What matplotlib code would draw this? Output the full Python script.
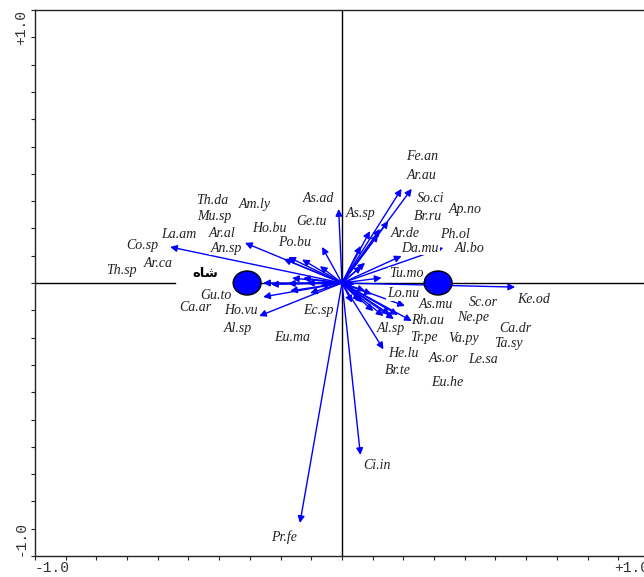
import matplotlib
matplotlib.use("Agg")
import matplotlib.pyplot as plt
from matplotlib.patches import Ellipse
import numpy as np

# species scores (arrow tips) on axes 1 and 2
species = ["Co.sp", "An.sp", "Ar.al", "Ho.bu", "Mu.sp", "Po.bu", "Ge.tu", "As.ad",
           "Th.sp", "Ar.ca", "Am.ly", "Th.da", "La.am", "Ec.sp", "Gu.to", "Ca.ar",
           "Ho.vu", "Al.sp", "Eu.ma", "Pr.fe",
           "Fe.an", "Ar.au", "So.ci", "Br.ru", "Ap.no", "As.sp", "Ar.de", "Ph.ol",
           "Al.bo", "Da.mu", "Tu.mo", "Ke.od", "Lo.nu", "As.mu", "Sc.or", "Rh.au",
           "Ne.pe", "Al.sp", "Tr.pe", "Va.py", "Ca.dr", "Ta.sy", "He.lu", "As.or",
           "Le.sa", "Br.te", "Eu.he", "Ci.in"]
tip_x = [-0.560, -0.316, -0.190, -0.175, -0.130, -0.065, -0.072, -0.011,
         -0.257, -0.231, -0.176, -0.163, -0.127, -0.114, -0.257, -0.169,
         -0.104, -0.270, -0.072, -0.137,
         0.227, 0.194, 0.151, 0.124, 0.118, 0.091, 0.061, 0.075,
         0.330, 0.194, 0.129, 0.564, 0.075, 0.205, 0.097, 0.227,
         0.182, 0.135, 0.156, 0.169, 0.059, 0.042, 0.135, 0.102,
         0.068, 0.033, 0.064, 0.060]
tip_y = [0.132, 0.147, 0.088, 0.095, 0.086, 0.132, 0.062, 0.271,
         0.000, -0.005, -0.002, 0.018, 0.018, 0.000, -0.051, -0.029,
         -0.037, -0.121, -0.011, -0.879,
         0.345, 0.345, 0.227, 0.198, 0.178, 0.190, 0.136, 0.074,
         0.129, 0.099, 0.019, -0.015, -0.029, -0.084, -0.041, -0.139,
         -0.117, -0.121, -0.115, -0.132, -0.066, -0.004, -0.243, -0.103,
         -0.072, -0.072, 0.062, -0.630]

# label positions for each species
lab_x = [-0.651, -0.378, -0.391, -0.238, -0.417, -0.156, -0.101, -0.078,
         -0.717, -0.599, -0.283, -0.423, -0.531, -0.078, -0.410, -0.479,
         -0.329, -0.339, -0.163, -0.189,
         0.261, 0.261, 0.287, 0.280, 0.401, 0.062, 0.205, 0.368,
         0.417, 0.254, 0.208, 0.625, 0.199, 0.306, 0.459, 0.280,
         0.427, 0.160, 0.267, 0.397, 0.564, 0.541, 0.199, 0.332,
         0.459, 0.182, 0.342, 0.114]
lab_y = [0.139, 0.128, 0.183, 0.198, 0.245, 0.147, 0.227, 0.308,
         0.044, 0.070, 0.289, 0.304, 0.179, -0.099, -0.044, -0.088,
         -0.099, -0.168, -0.201, -0.930,
         0.465, 0.392, 0.311, 0.242, 0.271, 0.253, 0.183, 0.179,
         0.128, 0.128, 0.033, -0.059, -0.040, -0.077, -0.070, -0.136,
         -0.125, -0.168, -0.198, -0.205, -0.165, -0.220, -0.260, -0.278,
         -0.282, -0.322, -0.366, -0.667]

# group centroids (nominal variables)
cent_x = [-0.309, 0.313]
cent_y = [0.0, 0.0]
group_name = "\uFEE9\uFE8E\uFEB7"   # شاه, glyphs in display order
group_pos = (-0.446, 0.033)

fig = plt.figure(figsize=(6.44, 5.77), dpi=100)
ax = fig.add_axes([35 / 644, 21 / 577, 614 / 644, 546 / 577])
ax.set_xlim(-1, 1)
ax.set_ylim(-1, 1)

for s in ["left", "bottom", "top", "right"]:
    ax.spines[s].set_linewidth(1.0)
    ax.spines[s].set_color("#222222")

ax.set_xticks(np.arange(-1, 1.01, 0.1))
ax.set_yticks(np.arange(-1, 1.01, 0.1))
ax.tick_params(direction="out", length=3, width=0.8, color="#222222",
               labelbottom=False, labelleft=False)

# tick labels at the ends only
mono = dict(family="Liberation Mono", fontsize=10.5, color="#333333")
ax.text(-1, -0.009, "-1.0", transform=ax.get_xaxis_transform(),
        ha="left", va="top", **mono)
ax.text(1, -0.009, "+1.0", transform=ax.get_xaxis_transform(),
        ha="right", va="top", **mono)
ax.text(-0.023, 1, "+1.0", transform=ax.get_yaxis_transform(),
        ha="center", va="top", rotation=90, **mono)
ax.text(-0.023, -1, "-1.0", transform=ax.get_yaxis_transform(),
        ha="center", va="bottom", rotation=90, **mono)

# origin lines
ax.plot([0, 0], [-1, 1], color="black", lw=1.0, zorder=1)
ax.plot([-1, -0.545], [0, 0], color="black", lw=1.0, zorder=1)
ax.plot([-0.3, 1], [0, 0], color="black", lw=1.0, zorder=1)

# species arrows
for x, y in zip(tip_x, tip_y):
    ax.annotate("", xy=(x, y), xytext=(0, 0),
                arrowprops=dict(arrowstyle="-|>", color="#0000ff", lw=1.0,
                                mutation_scale=10, shrinkA=0, shrinkB=0),
                zorder=2)

# centroids
for x, y in zip(cent_x, cent_y):
    ax.add_patch(Ellipse((x, y), 0.091, 0.088, facecolor="#0000ff",
                         edgecolor="black", lw=1.0, zorder=3))

# species labels with white masks
for name, x, y in zip(species, lab_x, lab_y):
    ax.text(x, y, name, ha="center", va="center", fontsize=10,
            family="Liberation Serif", style="italic", color="#222222",
            zorder=4, bbox=dict(facecolor="white", edgecolor="none", pad=0.6))

ax.text(group_pos[0], group_pos[1], group_name, ha="center", va="center",
        fontsize=9.5, family="DejaVu Sans", fontweight="bold", color="black",
        zorder=4, bbox=dict(facecolor="white", edgecolor="none", pad=0.6))

fig.savefig("out.png", dpi=100)
